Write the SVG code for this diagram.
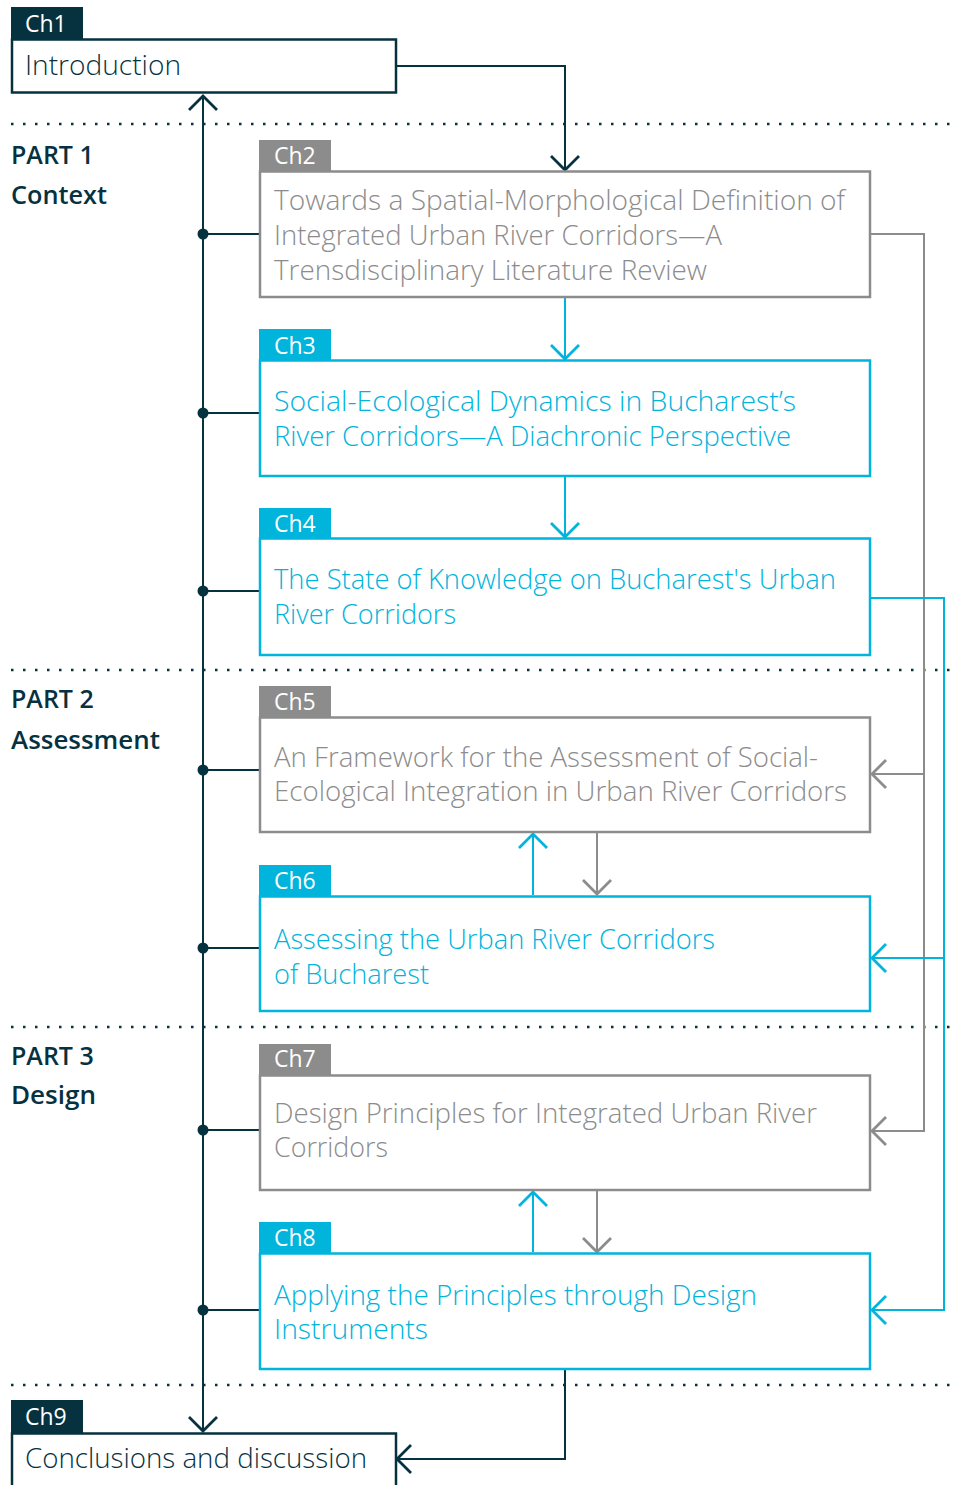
<svg xmlns="http://www.w3.org/2000/svg" width="956" height="1485" viewBox="0 0 956 1485">
<style>
  .t { font-family: "Open Sans", "Noto Sans", "Liberation Sans", sans-serif; font-weight: 300; font-size: 27px; }
  .tab { font-family: "Open Sans", "Noto Sans", "Liberation Sans", sans-serif; font-weight: 500; font-size: 23px; fill: #ffffff; }
  .part { font-family: "Open Sans", "Noto Sans", "Liberation Sans", sans-serif; font-weight: 600; font-size: 25px; fill: #06323f; }
  .dk { stroke: #06323f; }
  .gr { stroke: #8c8c8c; }
  .cy { stroke: #00b4dc; }
  .box { fill: #ffffff; stroke-width: 2.5; }
  .ln { fill: none; stroke-width: 2; }
  .dot { stroke: #06323f; stroke-width: 2.5; stroke-dasharray: 2.5 9.5; fill: none; }
  .tdk { fill: #06323f; }
  .tgr { fill: #8c8c8c; }
  .tcy { fill: #00b4dc; }
</style>
<defs>
  <marker id="aDk" markerUnits="userSpaceOnUse" markerWidth="40" markerHeight="40" refX="20" refY="20" orient="auto" overflow="visible">
    <path d="M6,6 L20,20 L6,34" fill="none" stroke="#06323f" stroke-width="2.8"/>
  </marker>
  <marker id="aGr" markerUnits="userSpaceOnUse" markerWidth="40" markerHeight="40" refX="20" refY="20" orient="auto" overflow="visible">
    <path d="M6,6 L20,20 L6,34" fill="none" stroke="#8c8c8c" stroke-width="2.8"/>
  </marker>
  <marker id="aCy" markerUnits="userSpaceOnUse" markerWidth="40" markerHeight="40" refX="20" refY="20" orient="auto" overflow="visible">
    <path d="M6,6 L20,20 L6,34" fill="none" stroke="#00b4dc" stroke-width="2.8"/>
  </marker>
</defs>

<g id="separators">
  <line class="dot" x1="11" y1="124" x2="950" y2="124"/>
  <line class="dot" x1="11" y1="670" x2="950" y2="670"/>
  <line class="dot" x1="11" y1="1027" x2="950" y2="1027"/>
  <line class="dot" x1="11" y1="1385" x2="950" y2="1385"/>
</g>

<g id="parts">
  <text class="part" x="11" y="164">PART 1</text>
  <text class="part" x="11" y="204" textLength="96" lengthAdjust="spacingAndGlyphs">Context</text>
  <text class="part" x="11" y="708">PART 2</text>
  <text class="part" x="11" y="749" textLength="149" lengthAdjust="spacingAndGlyphs">Assessment</text>
  <text class="part" x="11" y="1065">PART 3</text>
  <text class="part" x="11" y="1104" textLength="85" lengthAdjust="spacingAndGlyphs">Design</text>
</g>

<g id="connectors">
  <!-- spine -->
  <path class="ln dk" d="M203,700 V96" marker-end="url(#aDk)"/>
  <path class="ln dk" d="M203,700 V1431" marker-end="url(#aDk)"/>
  <path class="ln dk" d="M203,234 H260 M203,413 H260 M203,591 H260 M203,770 H260 M203,948 H260 M203,1130 H260 M203,1310 H260"/>
  <g fill="#06323f">
    <circle cx="203" cy="234" r="5.5"/>
    <circle cx="203" cy="413" r="5.5"/>
    <circle cx="203" cy="591" r="5.5"/>
    <circle cx="203" cy="770" r="5.5"/>
    <circle cx="203" cy="948" r="5.5"/>
    <circle cx="203" cy="1130" r="5.5"/>
    <circle cx="203" cy="1310" r="5.5"/>
  </g>
  <!-- Ch1 -> Ch2 -->
  <path class="ln dk" d="M396,66 H565 V170" marker-end="url(#aDk)"/>
  <!-- Ch2 -> Ch3 -> Ch4 -->
  <path class="ln cy" d="M565,298 V359" marker-end="url(#aCy)"/>
  <path class="ln cy" d="M565,477 V537" marker-end="url(#aCy)"/>
  <!-- Ch2 -> Ch5, Ch7 -->
  <path class="ln gr" d="M871,234 H924 V1131 H872" marker-end="url(#aGr)"/>
  <path class="ln gr" d="M924,774 H872" marker-end="url(#aGr)"/>
  <!-- Ch4 -> Ch6, Ch8 -->
  <path class="ln cy" d="M871,598 H944 V1310 H872" marker-end="url(#aCy)"/>
  <path class="ln cy" d="M944,958 H872" marker-end="url(#aCy)"/>
  <!-- Ch5 <-> Ch6 -->
  <path class="ln cy" d="M533,895 V834" marker-end="url(#aCy)"/>
  <path class="ln gr" d="M597,833 V894" marker-end="url(#aGr)"/>
  <!-- Ch7 <-> Ch8 -->
  <path class="ln cy" d="M533,1252 V1192" marker-end="url(#aCy)"/>
  <path class="ln gr" d="M597,1191 V1252" marker-end="url(#aGr)"/>
  <!-- Ch8 -> Ch9 -->
  <path class="ln dk" d="M565,1370 V1459 H397" marker-end="url(#aDk)"/>
</g>

<g id="ch1">
  <rect x="11" y="7" width="72" height="33" fill="#06323f"/>
  <text class="tab" x="25" y="32">Ch1</text>
  <rect class="box dk" x="12" y="39.5" width="384" height="53"/>
  <text class="t tdk" x="25" y="75" textLength="156" lengthAdjust="spacingAndGlyphs">Introduction</text>
</g>

<g id="ch2">
  <rect x="259" y="140" width="72" height="32" fill="#8c8c8c"/>
  <text class="tab" x="274" y="164">Ch2</text>
  <rect class="box gr" x="260" y="171.5" width="610" height="125.5"/>
  <text class="t tgr" x="274" y="210" textLength="571" lengthAdjust="spacingAndGlyphs">Towards a Spatial-Morphological Definition of</text>
  <text class="t tgr" x="274" y="245" textLength="448" lengthAdjust="spacingAndGlyphs">Integrated Urban River Corridors—A</text>
  <text class="t tgr" x="274" y="280" textLength="433" lengthAdjust="spacingAndGlyphs">Trensdisciplinary Literature Review</text>
</g>

<g id="ch3">
  <rect x="259" y="329" width="72" height="32" fill="#00b4dc"/>
  <text class="tab" x="274" y="354">Ch3</text>
  <rect class="box cy" x="260" y="360.5" width="610" height="115.5"/>
  <text class="t tcy" x="274" y="411" textLength="522" lengthAdjust="spacingAndGlyphs">Social-Ecological Dynamics in Bucharest’s</text>
  <text class="t tcy" x="274" y="446" textLength="517" lengthAdjust="spacingAndGlyphs">River Corridors—A Diachronic Perspective</text>
</g>

<g id="ch4">
  <rect x="259" y="508" width="72" height="31" fill="#00b4dc"/>
  <text class="tab" x="274" y="532">Ch4</text>
  <rect class="box cy" x="260" y="538.5" width="610" height="116.5"/>
  <text class="t tcy" x="274" y="589" textLength="562" lengthAdjust="spacingAndGlyphs">The State of Knowledge on Bucharest's Urban</text>
  <text class="t tcy" x="274" y="624" textLength="182" lengthAdjust="spacingAndGlyphs">River Corridors</text>
</g>

<g id="ch5">
  <rect x="259" y="686" width="72" height="32" fill="#8c8c8c"/>
  <text class="tab" x="274" y="710">Ch5</text>
  <rect class="box gr" x="260" y="717.5" width="610" height="114.5"/>
  <text class="t tgr" x="274" y="767" textLength="544" lengthAdjust="spacingAndGlyphs">An Framework for the Assessment of Social-</text>
  <text class="t tgr" x="274" y="801" textLength="573" lengthAdjust="spacingAndGlyphs">Ecological Integration in Urban River Corridors</text>
</g>

<g id="ch6">
  <rect x="259" y="865" width="72" height="32" fill="#00b4dc"/>
  <text class="tab" x="274" y="889">Ch6</text>
  <rect class="box cy" x="260" y="896.5" width="610" height="114.5"/>
  <text class="t tcy" x="274" y="949" textLength="441" lengthAdjust="spacingAndGlyphs">Assessing the Urban River Corridors</text>
  <text class="t tcy" x="274" y="984" textLength="155" lengthAdjust="spacingAndGlyphs">of Bucharest</text>
</g>

<g id="ch7">
  <rect x="259" y="1044" width="72" height="32" fill="#8c8c8c"/>
  <text class="tab" x="274" y="1067">Ch7</text>
  <rect class="box gr" x="260" y="1075.5" width="610" height="114.5"/>
  <text class="t tgr" x="274" y="1123" textLength="543" lengthAdjust="spacingAndGlyphs">Design Principles for Integrated Urban River</text>
  <text class="t tgr" x="274" y="1157" textLength="114" lengthAdjust="spacingAndGlyphs">Corridors</text>
</g>

<g id="ch8">
  <rect x="259" y="1222" width="72" height="32" fill="#00b4dc"/>
  <text class="tab" x="274" y="1246">Ch8</text>
  <rect class="box cy" x="260" y="1253.5" width="610" height="115.5"/>
  <text class="t tcy" x="274" y="1305" textLength="483" lengthAdjust="spacingAndGlyphs">Applying the Principles through Design</text>
  <text class="t tcy" x="274" y="1339" textLength="154" lengthAdjust="spacingAndGlyphs">Instruments</text>
</g>

<g id="ch9">
  <rect x="11" y="1400" width="72" height="34" fill="#06323f"/>
  <text class="tab" x="25" y="1425">Ch9</text>
  <rect class="box dk" x="12" y="1433.5" width="384" height="70"/>
  <text class="t tdk" x="25" y="1468" textLength="342" lengthAdjust="spacingAndGlyphs">Conclusions and discussion</text>
</g>
</svg>
